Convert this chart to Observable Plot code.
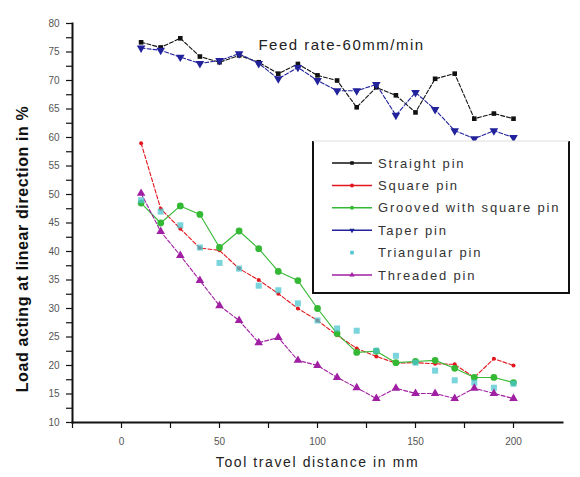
<!DOCTYPE html>
<html>
<head>
<meta charset="utf-8">
<script src="https://cdn.jsdelivr.net/npm/d3@7"></script>
<script src="https://cdn.jsdelivr.net/npm/@observablehq/plot@0.6"></script>
<style>
  body { margin: 0; background: #fff; }
  #chart { width: 580px; height: 477px; }
</style>
</head>
<body>
<div id="chart"></div>
<script>
// Tool travel distance (mm)
const distance = [10, 20, 30, 40, 50, 60, 70, 80, 90, 100, 110, 120, 130, 140, 150, 160, 170, 180, 190, 200];

// Load acting in the linear direction (%) for each pin profile
const straightPin   = [76.7, 75.8, 77.4, 74.2, 73.2, 74.4, 73.2, 71.2, 72.9, 70.9, 70.0, 65.3, 68.8, 67.4, 64.4, 70.3, 71.2, 63.3, 64.2, 63.3];
const squarePin     = [59.0, 47.5, 44.0, 40.6, 40.2, 37.0, 35.0, 32.6, 30.0, 27.9, 25.3, 23.0, 21.6, 20.4, 20.5, 20.3, 20.2, 17.9, 21.2, 20.0];
const groovedPin    = [48.5, 45.0, 48.0, 46.5, 40.7, 43.6, 40.5, 36.5, 34.9, 30.0, 25.6, 22.3, 22.5, 20.5, 20.7, 20.9, 19.5, 17.9, 17.9, 17.0];
const taperPin      = [75.7, 75.3, 74.1, 73.0, 73.5, 74.7, 73.0, 70.3, 72.3, 70.0, 68.2, 68.2, 69.3, 63.9, 67.9, 64.9, 61.2, 59.8, 61.2, 60.0];
const triangularPin = [49.0, 47.0, 44.6, 40.7, 38.0, 37.0, 34.0, 33.2, 30.9, 27.9, 26.5, 26.1, 22.6, 21.7, 20.5, 19.1, 17.4, 17.0, 16.1, 16.8];
const threadedPin   = [50.2, 43.5, 39.3, 34.9, 30.5, 27.9, 24.0, 24.9, 20.9, 20.0, 17.9, 16.1, 14.2, 16.0, 15.1, 15.1, 14.2, 16.0, 15.1, 14.2];

// Axis ticks
const yTickLabels = [10, 15, 20, 25, 30, 35, 40, 45, 50, 55, 60, 65, 70, 75, 80];
const yMinorTicks = d3.range(10, 80.01, 2.5);
const xTickLabels = [0, 50, 100, 150, 200];
const xMinorTicks = [-25, 0, 25, 50, 75, 100, 125, 150, 175, 200];

const series = [
  {name: "Straight pin",            values: straightPin,   color: "#111111", symbol: "square",   rotate: 0,   r: 2.6, line: true},
  {name: "Square pin",              values: squarePin,     color: "#e3161e", symbol: "circle",   rotate: 0,   r: 2.0, line: true},
  {name: "Grooved with square pin", values: groovedPin,    color: "#35b935", symbol: "circle",   rotate: 0,   r: 3.4, line: true},
  {name: "Taper pin",               values: taperPin,      color: "#22229c", symbol: "triangle", rotate: 180, r: 3.2, line: true},
  {name: "Triangular pin",          values: triangularPin, color: "#4cc6cf", symbol: "square",   rotate: 0,   r: 3.4, line: false},
  {name: "Threaded pin",            values: threadedPin,   color: "#a11fa3", symbol: "triangle", rotate: 0,   r: 3.2, line: true}
];

const rows = series.flatMap(s => s.values.map((v, i) => ({pin: s.name, x: distance[i], y: v})));

const lineMarks = series.filter(s => s.line).map(s =>
  Plot.line(rows.filter(d => d.pin === s.name), {
    x: "x", y: "y", stroke: s.color, strokeWidth: 1.1,
    strokeDasharray: s.name === "Grooved with square pin" ? null : "4,2"
  })
);
const dotMarks = series.map(s =>
  Plot.dot(rows.filter(d => d.pin === s.name), {
    x: "x", y: "y", fill: s.color, stroke: "none",
    symbol: () => s.symbol, r: s.r, rotate: s.rotate,
    fillOpacity: s.name === "Triangular pin" ? 0.75 : 1
  })
);

const chart = Plot.plot({
  width: 580,
  height: 477,
  marginLeft: 72,
  marginRight: 18,
  marginTop: 23,
  marginBottom: 55,
  style: {fontFamily: "'Liberation Sans', Arial, sans-serif", background: "#fff"},
  x: {domain: [-25, 225]},
  y: {domain: [10, 80]},
  symbol: {type: "identity"},
  marks: [
    // tick marks
    Plot.axisY({ticks: yMinorTicks, tickSize: 6, tickFormat: () => "", stroke: "#111", strokeWidth: 1.2, label: null}),
    Plot.axisX({ticks: xMinorTicks, tickSize: 6, tickFormat: () => "", stroke: "#111", strokeWidth: 1.2, label: null}),
    // tick labels
    Plot.axisY({ticks: yTickLabels, tickSize: 0, tickPadding: 13, fontSize: 10, fill: "#555", label: null}),
    Plot.axisX({ticks: xTickLabels, tickSize: 0, tickPadding: 15, fontSize: 10, fill: "#555", label: null}),
    // axis lines
    Plot.frame({anchor: "left", stroke: "#111", strokeWidth: 2}),
    Plot.frame({anchor: "bottom", stroke: "#111", strokeWidth: 2}),
    // series
    ...lineMarks,
    ...dotMarks,
    // annotation and axis titles
    Plot.text(["Feed rate-60mm/min"], {frameAnchor: "top", dx: 24, dy: 22, fontSize: 15, fill: "#222", lineAnchor: "middle"}),
    Plot.text(["Load acting at linear direction in %"], {frameAnchor: "left", textAnchor: "middle", dx: -50, dy: 26, rotate: -90, fontSize: 16, fontWeight: "bold", fill: "#111"}),
    Plot.text(["Tool travel distance in mm"], {frameAnchor: "bottom", dy: 44, fontSize: 14, fill: "#222"})
  ]
});

// letter spacing for the titles
d3.select(chart).selectAll("text").each(function () {
  const t = this.textContent;
  if (t === "Feed rate-60mm/min") this.style.letterSpacing = "1.5px";
  if (t === "Tool travel distance in mm") this.style.letterSpacing = "1.6px";
  if (t === "Load acting at linear direction in %") this.style.letterSpacing = "0.6px";
});

// Legend box
const svg = d3.select(chart);
const legend = svg.append("g")
  .attr("font-family", "'Liberation Sans', Arial, sans-serif")
  .attr("text-anchor", "start");
const box = {left: 313, top: 141, right: 569, bottom: 293};
legend.append("rect")
  .attr("x", box.left).attr("y", box.top)
  .attr("width", box.right - box.left).attr("height", box.bottom - box.top)
  .attr("fill", "#fff").attr("stroke", "none");
legend.append("path")
  .attr("d", `M${box.left},${box.top}V${box.bottom}H${box.right}V${box.top}`)
  .attr("fill", "none").attr("stroke", "#111").attr("stroke-width", 2);
legend.append("path")
  .attr("d", `M${box.left},${box.top}H${box.right}`)
  .attr("fill", "none").attr("stroke", "#ddd").attr("stroke-width", 1);

const symbolTypes = {square: d3.symbolSquare, circle: d3.symbolCircle, triangle: d3.symbolTriangle};
series.forEach((s, i) => {
  const y = 163 + i * 22.4;
  const g = legend.append("g");
  if (s.line) {
    g.append("line").attr("x1", 332).attr("x2", 372).attr("y1", y).attr("y2", y)
      .attr("stroke", s.color).attr("stroke-width", 1.5);
  }
  g.append("path")
    .attr("d", d3.symbol(symbolTypes[s.symbol], Math.PI * 2 * 2)())
    .attr("transform", `translate(352,${y}) rotate(${s.rotate})`)
    .attr("fill", s.color);
  g.append("text").attr("x", 378).attr("y", y).attr("dy", "0.35em")
    .attr("text-anchor", "start")
    .attr("font-size", 13).attr("fill", "#333").style("letter-spacing", "1.8px")
    .text(s.name);
});

document.getElementById("chart").appendChild(chart);
</script>
</body>
</html>
